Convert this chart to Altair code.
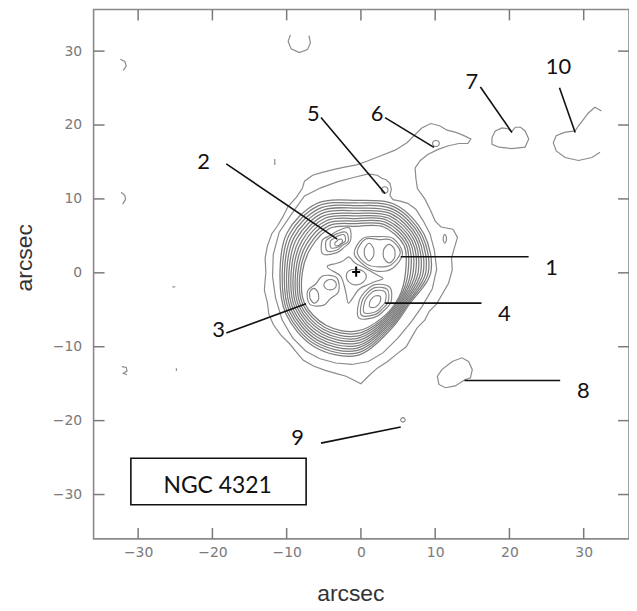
import math
import altair as alt
import pandas as pd

# ---------------- axes ----------------
X_DOMAIN = [-36, 36.1]
Y_DOMAIN = [-36, 35.64]
TICKS = [-30, -20, -10, 0, 10, 20, 30]
W, H = 538, 532

# ---------------- contour data (arcsec) ----------------
# lowest contour, including the northern arm
OUTER = [(-12.8, 0.0), (-12.9, 2.0), (-12.6, 3.6), (-12.0, 5.3), (-11.2, 6.4), (-10.5, 7.6), (-9.8, 9.0),
         (-8.7, 10.2), (-7.9, 11.4), (-7.6, 12.4), (-6.5, 13.2), (-5.2, 13.6), (-3.6, 14.0), (-2.2, 14.3),
         (-0.6, 14.6), (0.8, 15.1), (2.6, 15.8), (4.6, 16.6), (6.2, 17.6), (7.2, 18.6), (8.2, 19.6),
         (9.4, 20.2), (10.6, 19.9), (11.6, 19.3), (12.8, 19.0), (13.8, 18.6), (14.8, 18.1), (14.4, 17.5),
         (13.2, 17.5), (11.8, 17.2), (10.4, 16.7), (9.0, 16.0), (8.0, 15.2), (7.3, 14.2), (7.4, 12.8),
         (7.6, 11.4), (8.6, 10.0), (9.4, 8.4), (10.0, 7.0), (10.8, 6.2), (12.4, 5.9), (13.0, 4.8),
         (12.6, 3.4), (12.2, 2.0), (12.3, 0.4), (11.8, -1.4), (11.0, -2.8), (10.2, -4.2), (9.2, -5.2),
         (8.6, -6.4), (7.6, -7.4), (6.9, -8.6), (6.1, -10.0), (4.8, -11.0), (3.6, -12.0), (2.2, -12.9),
         (1.0, -14.0), (0.0, -15.0), (-0.8, -14.6), (-2.0, -14.0), (-3.4, -13.6), (-4.8, -13.2),
         (-6.4, -12.6), (-7.8, -11.8), (-8.8, -10.6), (-9.6, -9.6), (-10.8, -8.4), (-11.8, -7.0),
         (-12.4, -5.6), (-12.6, -4.0), (-13.0, -2.4), (-12.9, -1.0)]

LEVEL2 = [(-11.9, -0.5), (-11.8, 2.5), (-11.0, 5.5), (-9.3, 8.0), (-7.6, 10.4), (-5.4, 11.5), (-3.2, 12.3),
          (-1.0, 12.9), (1.0, 13.4), (2.2, 13.2), (2.8, 12.8), (3.4, 12.6), (3.9, 12.1), (4.1, 11.3),
          (3.9, 10.5), (4.3, 9.9), (5.3, 9.7), (6.3, 9.4), (7.4, 8.6), (8.4, 7.0), (9.3, 5.3), (9.9, 3.0),
          (10.2, 0.5), (9.6, -2.2), (8.2, -4.6), (6.8, -6.6), (5.0, -8.8), (3.0, -10.8), (1.0, -12.0),
          (-1.2, -12.4), (-3.4, -12.2), (-5.6, -11.6), (-7.4, -10.6), (-9.2, -8.8), (-10.6, -6.4),
          (-11.5, -3.4)]

BLOB7 = [(17.65, 18.3), (18.1, 19.2), (19.0, 19.6), (19.8, 19.5), (20.3, 19.1), (20.8, 19.7), (21.5, 19.7),
         (22.1, 19.2), (22.6, 18.1), (22.1, 17.0), (20.3, 16.8), (18.6, 17.0), (17.65, 17.4)]

BLOB8 = [(10.3, -14.0), (10.9, -13.1), (12.3, -12.0), (13.6, -11.5), (14.5, -12.0), (15.0, -13.1),
         (14.75, -14.2), (13.95, -14.5), (12.7, -15.3), (11.4, -15.55), (10.5, -15.1)]

# inner-slope contours around the nucleus (control points of smooth closed curves)
INNER1 = [(0.9, -0.5), (0.4, 0.3), (-0.4, 0.5), (-1.4, 0.5), (-2.0, 0.0), (-2.0, -0.9), (-1.3, -1.6),
          (-0.4, -1.7), (0.4, -1.3)]
INNER2 = [(3.4, -0.8), (2.2, -0.35), (1.0, 0.4), (0.1, 0.9), (-1.0, 1.3), (-1.6, 2.5), (-2.2, 1.6),
          (-3.4, 1.2), (-5.0, 1.0), (-3.8, 0.2), (-2.6, -0.3), (-2.3, -1.6), (-1.9, -3.0), (-1.8, -4.6),
          (-1.0, -3.2), (-0.2, -2.0), (0.8, -1.7), (2.0, -1.1)]

# open contours (cut by the edge of the map)
BLOB10 = [(32.4, 21.9), (31.5, 22.4), (30.6, 21.6), (30.0, 20.8), (29.3, 19.9), (28.85, 19.2), (27.4, 19.0),
          (26.3, 18.55), (25.9, 17.6), (26.3, 16.5), (27.5, 15.6), (29.3, 15.2), (31.1, 15.6), (32.2, 16.3)]
ARC_TOP = [(-9.5, 32.2), (-9.8, 31.3), (-9.4, 30.3), (-8.3, 29.8), (-7.2, 30.2), (-6.8, 31.1), (-7.0, 32.1)]
ARC_L1 = [(-32.4, 28.9), (-31.8, 28.6), (-31.6, 28.0), (-32.0, 27.4)]
ARC_L2 = [(-32.3, 10.9), (-31.8, 10.5), (-31.7, 9.9), (-32.1, 9.3)]
ARC_L3 = [(-32.2, -12.7), (-31.6, -12.8), (-31.5, -13.3), (-32.0, -13.6), (-31.5, -13.8)]
SPECK1 = [(-24.85, -12.9), (-24.85, -13.3)]
SPECK2 = [(-11.6, 15.4), (-11.6, 14.6)]
SPECK3 = [(-25.4, -1.9), (-25.0, -1.9)]

# nuclear ring contours: radii (arcsec) every 30 degrees around the ring centre
RING_CENTER = (-0.6, 0.0)
RING_ANGLES = [0, 30, 60, 90, 120, 150, 180, 210, 240, 270, 300, 330]
RINGS = [
    [10.0, 10.5, 10.6, 9.8, 10.8, 10.8, 10.3, 11.0, 11.5, 11.2, 9.0, 8.3],
    [9.66, 10.19, 10.26, 9.45, 10.42, 10.42, 10.0, 10.71, 11.17, 10.87, 8.8, 8.13],
    [9.32, 9.88, 9.92, 9.1, 10.04, 10.04, 9.7, 10.42, 10.84, 10.54, 8.6, 7.96],
    [8.98, 9.57, 9.58, 8.75, 9.66, 9.66, 9.4, 10.13, 10.51, 10.21, 8.4, 7.79],
    [8.64, 9.26, 9.24, 8.4, 9.28, 9.28, 9.1, 9.84, 10.18, 9.88, 8.2, 7.62],
    [8.3, 8.95, 8.9, 8.05, 8.9, 8.9, 8.8, 9.55, 9.85, 9.55, 8.0, 7.45],
    [7.96, 8.64, 8.56, 7.7, 8.52, 8.52, 8.5, 9.26, 9.52, 9.22, 7.8, 7.28],
    [7.62, 8.33, 8.22, 7.35, 8.14, 8.14, 8.2, 8.97, 9.19, 8.89, 7.6, 7.11],
    [7.28, 8.02, 7.88, 7.0, 7.76, 7.76, 7.9, 8.68, 8.86, 8.56, 7.4, 6.94],
    [6.94, 7.71, 7.54, 6.65, 7.38, 7.38, 7.6, 8.39, 8.53, 8.23, 7.2, 6.77],
    [6.6, 7.4, 7.2, 6.3, 7.0, 7.0, 7.3, 8.1, 8.2, 7.9, 7.0, 6.6],
]

# closed loops around the knots: centre and radii every 45 degrees
LOOP_ANGLES = [0, 45, 90, 135, 180, 225, 270, 315]
LOOP_NAMES = ["A1", "A2", "B", "B2", "C1", "C2", "C3", "C4", "D1", "D2", "E",
              "F1", "F2", "F25", "F3", "K5", "K6", "K9", "KT"]
LOOP_CX = [1.1, 3.8, 2.4, 2.3, -3.0, -3.1, -3.2, -3.3, -6.3, -4.1, -5.1,
           1.9, 1.9, 1.9, 1.9, 3.2, 10.1, 5.66, 11.3]
LOOP_CY = [2.8, 2.6, 2.8, 2.6, 4.1, 4.3, 4.3, 4.4, -3.1, -1.6, -2.5,
           -3.9, -3.9, -3.9, -3.9, 11.2, 17.5, -19.9, 4.6]
LOOP_R = [
    [0.65, 0.8, 1.2, 0.8, 0.65, 0.8, 1.2, 0.8],
    [0.8, 0.95, 1.25, 0.95, 0.8, 0.95, 1.25, 0.95],
    [2.9, 2.3, 1.7, 2.5, 2.9, 2.3, 2.0, 2.4],
    [3.3, 2.9, 2.3, 2.9, 3.2, 2.4, 2.4, 2.8],
    [0.5, 0.6, 0.4, 0.3, 0.5, 0.6, 0.4, 0.3],
    [1.0, 1.2, 0.7, 0.6, 1.0, 1.3, 0.8, 0.6],
    [1.5, 1.7, 1.0, 0.9, 1.5, 1.9, 1.2, 0.9],
    [1.9, 2.4, 1.2, 1.0, 1.9, 2.6, 1.7, 1.4],
    [0.6, 0.7, 1.0, 0.8, 0.6, 0.7, 1.0, 0.8],
    [0.8, 0.75, 0.7, 0.75, 0.9, 0.8, 0.7, 0.75],
    [2.1, 2.6, 2.1, 1.4, 2.1, 2.5, 1.9, 1.4],
    [0.70, 0.99, 0.76, 0.60, 0.70, 0.99, 0.76, 0.60],
    [1.38, 1.89, 1.49, 1.20, 1.38, 2.1, 1.4, 1.1],
    [1.77, 2.34, 1.9, 1.55, 1.77, 2.6, 1.75, 1.4],
    [2.16, 2.79, 2.30, 1.90, 2.16, 3.1, 2.1, 1.7],
    [0.45, 0.45, 0.45, 0.45, 0.45, 0.45, 0.45, 0.45],
    [0.45, 0.45, 0.4, 0.45, 0.45, 0.45, 0.4, 0.45],
    [0.3, 0.3, 0.3, 0.3, 0.3, 0.3, 0.3, 0.3],
    [0.2, 0.3, 0.6, 0.3, 0.2, 0.3, 0.6, 0.3],
]

NUCLEUS = [(-0.64, 0.1)]

# ---------------- annotations ----------------
LABELS = ["1", "2", "3", "4", "5", "6", "7", "8", "9", "10"]
LABEL_X = [25.66, -21.18, -19.17, 19.32, -6.42, 2.17, 14.93, 29.96, -8.52, 26.6]
LABEL_Y = [0.65, 15.05, -7.70, -5.59, 21.51, 21.51, 25.81, -16.0, -22.37, 27.87]
LINE_X1 = [5.36, -18.13, -18.13, 3.25, -5.38, 3.25, 16.09, 13.95, -5.38, 26.74]
LINE_Y1 = [2.17, 14.74, -8.14, -4.10, 21.01, 21.01, 25.14, -14.56, -23.04, 25.05]
LINE_X2 = [22.58, -3.19, -7.40, 16.23, 3.25, 9.83, 20.34, 26.83, 5.36, 28.85]
LINE_Y2 = [2.17, 4.55, -4.20, -4.10, 10.74, 16.97, 18.99, -14.56, -20.85, 18.99]

BOX = {"x": -30.98, "x2": -7.38, "y": -25.09, "y2": -31.38}
BOX_TEXT = "NGC 4321"
BOX_TEXT_POS = (-19.3, -28.87)

# ---------------- build tables ----------------
def rows_from(name, pts):
    return [{"cid": name, "o": i, "x": p[0], "y": p[1]} for i, p in enumerate(pts)]

closed_rows = []
for name, pts in [("outer", OUTER), ("level2", LEVEL2), ("b7", BLOB7), ("b8", BLOB8)]:
    closed_rows += rows_from(name, pts)

open_rows = []
for name, pts in [("b10", BLOB10), ("arc_top", ARC_TOP), ("arc_l1", ARC_L1), ("arc_l2", ARC_L2),
                  ("arc_l3", ARC_L3), ("s1", SPECK1), ("s2", SPECK2), ("s3", SPECK3)]:
    open_rows += rows_from(name, pts)

ring_rows = []
cx0, cy0 = RING_CENTER
for k, radii in enumerate(RINGS):
    pts = [(cx0 + r * math.cos(math.radians(a)), cy0 + r * math.sin(math.radians(a)))
           for a, r in zip(RING_ANGLES, radii)]
    ring_rows += rows_from(f"ring{k}", pts)

smooth_rows = []
for name, cx, cy, radii in zip(LOOP_NAMES, LOOP_CX, LOOP_CY, LOOP_R):
    pts = [(cx + r * math.cos(math.radians(a)), cy + r * math.sin(math.radians(a)))
           for a, r in zip(LOOP_ANGLES, radii)]
    smooth_rows += rows_from(name, pts)

inner_rows = rows_from("inner1", INNER1) + rows_from("inner2", INNER2)

closed_df = pd.DataFrame(closed_rows)
open_df = pd.DataFrame(open_rows)
ring_df = pd.DataFrame(ring_rows)
smooth_df = pd.DataFrame(smooth_rows)
inner_df = pd.DataFrame(inner_rows)
labels_df = pd.DataFrame({"t": LABELS, "x": LABEL_X, "y": LABEL_Y})
lines_df = pd.DataFrame({"x": LINE_X1, "y": LINE_Y1, "x2": LINE_X2, "y2": LINE_Y2})
box_df = pd.DataFrame([BOX])
boxtext_df = pd.DataFrame({"t": [BOX_TEXT], "x": [BOX_TEXT_POS[0]], "y": [BOX_TEXT_POS[1]]})
nuc_df = pd.DataFrame({"x": [p[0] for p in NUCLEUS], "y": [p[1] for p in NUCLEUS]})
tick_df = pd.DataFrame({"v": TICKS})

# ---------------- encodings ----------------
X_AXIS = alt.Axis(values=TICKS, ticks=False, domain=False, grid=False,
                  labelFont="DejaVu Sans", labelFontSize=14, labelColor="#7a7a7a", labelPadding=7,
                  title="arcsec", titleFont="Liberation Sans", titleFontSize=23, titleFontWeight="normal",
                  titleColor="#333333", titleX=258, titleY=55, titleBaseline="middle", titleAlign="center")
Y_AXIS = alt.Axis(values=TICKS, ticks=False, domain=False, grid=False,
                  labelFont="DejaVu Sans", labelFontSize=14, labelColor="#7a7a7a", labelPadding=12,
                  title="arcsec", titleFont="Liberation Sans", titleFontSize=23, titleFontWeight="normal",
                  titleColor="#333333", titleX=-69, titleY=249, titleAngle=270,
                  titleBaseline="middle", titleAlign="center")
XS = alt.Scale(domain=X_DOMAIN, nice=False, zero=False)
YS = alt.Scale(domain=Y_DOMAIN, nice=False, zero=False)


def X(f):
    return alt.X(f, type="quantitative", scale=XS, axis=X_AXIS)


def Y(f):
    return alt.Y(f, type="quantitative", scale=YS, axis=Y_AXIS)


CONTOUR_COLOR = "#858585"

closed_layer = alt.Chart(closed_df).mark_line(
    interpolate="linear-closed", color="#8c8c8c", strokeWidth=1.2
).encode(x=X("x"), y=Y("y"), detail="cid:N", order="o:Q")

open_layer = alt.Chart(open_df).mark_line(
    interpolate="linear", color="#8c8c8c", strokeWidth=1.2
).encode(x=X("x"), y=Y("y"), detail="cid:N", order="o:Q")

ring_layer = alt.Chart(ring_df).mark_line(
    interpolate="cardinal-closed", color="#7c7c7c", strokeWidth=1.25
).encode(x=X("x"), y=Y("y"), detail="cid:N", order="o:Q")

smooth_layer = alt.Chart(smooth_df).mark_line(
    interpolate="cardinal-closed", color=CONTOUR_COLOR, strokeWidth=1.15
).encode(x=X("x"), y=Y("y"), detail="cid:N", order="o:Q")

inner_layer = alt.Chart(inner_df).mark_line(
    interpolate="basis-closed", color=CONTOUR_COLOR, strokeWidth=1.15
).encode(x=X("x"), y=Y("y"), detail="cid:N", order="o:Q")

lines_layer = alt.Chart(lines_df).mark_rule(color="#111111", strokeWidth=1.6).encode(
    x=X("x"), y=Y("y"), x2="x2", y2="y2")

labels_layer = alt.Chart(labels_df).mark_text(
    font="Lato", fontSize=22, color="#111111", align="center", baseline="middle"
).encode(x=X("x"), y=Y("y"), text="t:N")

box_layer = alt.Chart(box_df).mark_rect(
    fill="white", fillOpacity=0, stroke="#111111", strokeWidth=1.6
).encode(x=X("x"), x2="x2", y=Y("y"), y2="y2")

boxtext_layer = alt.Chart(boxtext_df).mark_text(
    font="Lato", fontSize=23, color="#111111", align="center", baseline="middle"
).encode(x=X("x"), y=Y("y"), text="t:N")

NUC_SHAPE = ("M-0.22,-1.25L0.22,-1.25L0.22,-0.22L0.9,-0.22L0.9,0.22L0.22,0.22L0.22,1.05"
             "L-0.22,1.05L-0.22,0.22L-0.9,0.22L-0.9,-0.22L-0.22,-0.22Z")
nuc_layer = alt.Chart(nuc_df).mark_point(
    shape=NUC_SHAPE, filled=True, size=80, color="#000000", opacity=1
).encode(x=X("x"), y=Y("y"))

TICK_COLOR = "#7a7a7a"
tick_bottom = alt.Chart(tick_df).mark_rule(color=TICK_COLOR, strokeWidth=1.5).encode(
    x=X("v"), y=alt.value(H), y2=alt.value(H - 11))
tick_top = alt.Chart(tick_df).mark_rule(color=TICK_COLOR, strokeWidth=1.5).encode(
    x=X("v"), y=alt.value(0), y2=alt.value(11))
tick_left = alt.Chart(tick_df).mark_rule(color=TICK_COLOR, strokeWidth=1.5).encode(
    y=Y("v"), x=alt.value(0), x2=alt.value(11))
tick_right = alt.Chart(tick_df).mark_rule(color=TICK_COLOR, strokeWidth=1.5).encode(
    y=Y("v"), x=alt.value(W), x2=alt.value(W - 11))

chart = alt.layer(
    closed_layer, open_layer, ring_layer, smooth_layer, inner_layer, lines_layer, labels_layer,
    box_layer, boxtext_layer, nuc_layer, tick_bottom, tick_top, tick_left, tick_right
).properties(
    width=W, height=H,
    autosize=alt.AutoSizeParams(type="none"),
    padding={"left": 86, "top": 0, "right": 0, "bottom": 65},
    background="white",
).configure_view(stroke="#8a8a8a", strokeWidth=1.6)

chart.save("out.html", embed_options={"renderer": "svg", "actions": False})
